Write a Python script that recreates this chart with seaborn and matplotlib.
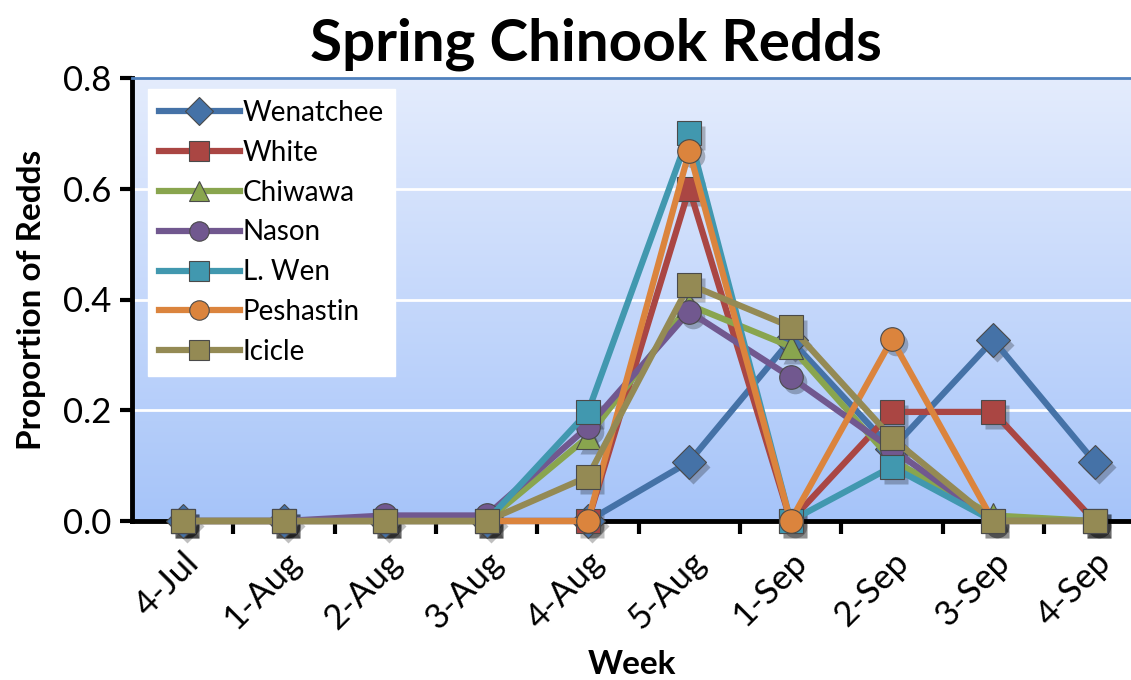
import numpy as np
import pandas as pd
import matplotlib
matplotlib.use('Agg')
import matplotlib.pyplot as plt
import matplotlib.transforms as mtransforms
import seaborn as sns

# data
weeks = ['4-Jul', '1-Aug', '2-Aug', '3-Aug', '4-Aug', '5-Aug', '1-Sep', '2-Sep', '3-Sep', '4-Sep']
wenatchee = [0, 0, 0, 0, 0, 0.107, 0.327, 0.13, 0.327, 0.107]
white = [0, 0, 0, 0, 0, 0.60, 0, 0.197, 0.197, 0]
chiwawa = [0, 0, 0, 0, 0.152, 0.39, 0.315, 0.11, 0.01, 0]
nason = [0, 0, 0.01, 0.01, 0.17, 0.378, 0.26, 0.13, 0, 0]
lwen = [0, 0, 0, 0, 0.197, 0.70, 0, 0.098, 0, 0]
peshastin = [0, 0, 0, 0, 0, 0.668, 0, 0.328, 0, 0]
icicle = [0, 0, 0, 0, 0.08, 0.427, 0.351, 0.15, 0, 0]

streams = ['Wenatchee', 'White', 'Chiwawa', 'Nason', 'L. Wen', 'Peshastin', 'Icicle']
values = [wenatchee, white, chiwawa, nason, lwen, peshastin, icicle]
colors = ['#4572a7', '#aa4643', '#89a54e', '#71588f', '#4198af', '#db843d', '#948a54']
markers = ['D', 's', '^', 'o', 's', 'o', 's']

rows = []
for s, v in zip(streams, values):
    for i, w in enumerate(weeks):
        rows.append({'Week': i, 'Stream': s, 'Proportion': v[i]})
df = pd.DataFrame(rows)

plt.rcParams['font.family'] = ['Lato', 'DejaVu Sans']

fig = plt.figure(figsize=(11.31, 6.8), dpi=100)
ax = fig.add_axes([132 / 1131, 1 - 521 / 680, (1131 - 132) / 1131, (521 - 78) / 680])

# gradient background, light at top
grad = np.linspace(0, 1, 256).reshape(-1, 1)
cmap = matplotlib.colors.LinearSegmentedColormap.from_list('bg', ['#a6c4f9', '#e4ecfd'])
ax.imshow(grad, cmap=cmap, aspect='auto', extent=[-0.5, 9.36, 0, 0.8], origin='lower', zorder=0)

for y in [0.2, 0.4, 0.6]:
    ax.axhline(y, color='white', lw=2, zorder=1)

# soft marker shadows
shadow = ax.transData + mtransforms.ScaledTranslation(4 / 100, -5 / 100, fig.dpi_scale_trans)
for v, m in zip(values, markers):
    ax.plot(range(len(weeks)), v, ls='none', marker=m, ms=17, color='black', alpha=0.25,
            mec='none', transform=shadow, zorder=2, clip_on=False)

sns.lineplot(data=df, x='Week', y='Proportion', hue='Stream', style='Stream',
             hue_order=streams, style_order=streams, palette=colors,
             markers=markers, dashes=False, lw=4.5, markersize=17,
             markeredgecolor='#4a4a4a', markeredgewidth=0.8, ax=ax, zorder=3)

for ln in ax.get_lines():
    ln.set_clip_on(False)

ax.set_xlim(-0.5, 9.36)
ax.set_ylim(0, 0.8)
ax.set_yticks([0, 0.2, 0.4, 0.6, 0.8])
ax.set_yticklabels(['0.0', '0.2', '0.4', '0.6', '0.8'], fontsize=25)
ax.set_xticks(range(len(weeks)))
ax.set_xticklabels(weeks, rotation=45, ha='right', rotation_mode='anchor', fontsize=25)
ax.set_xticks(np.arange(0.5, 9.5, 1), minor=True)
ax.tick_params(axis='x', which='major', length=0, pad=18)
ax.tick_params(axis='x', which='minor', length=9, width=3, direction='out')
ax.tick_params(axis='y', length=9, width=3, direction='out', pad=6)

for side in ['left', 'bottom']:
    ax.spines[side].set_linewidth(3.5)
    ax.spines[side].set_color('black')
    ax.spines[side].set_zorder(2.5)
ax.spines['top'].set_color('#4f81bd')
ax.spines['top'].set_linewidth(2)
ax.spines['right'].set_visible(False)
ax.grid(False)

ax.set_xlabel('Week', fontsize=24, fontweight='bold', labelpad=11)
ax.set_ylabel('Proportion of Redds', fontsize=24, fontweight='bold', labelpad=12)
fig.text(0.527, 0.935, 'Spring Chinook Redds', fontsize=42, fontweight='bold', ha='center', va='center')

leg = ax.legend(loc='upper left', bbox_to_anchor=(0.016, 0.976), fontsize=20, frameon=True,
                fancybox=False, framealpha=1, edgecolor='white', borderpad=0.4,
                labelspacing=0.5, handlelength=2.9, handletextpad=0.12, borderaxespad=0)
for h in leg.legend_handles:
    h.set_markersize(14)

fig.savefig('out.png', dpi=100)
